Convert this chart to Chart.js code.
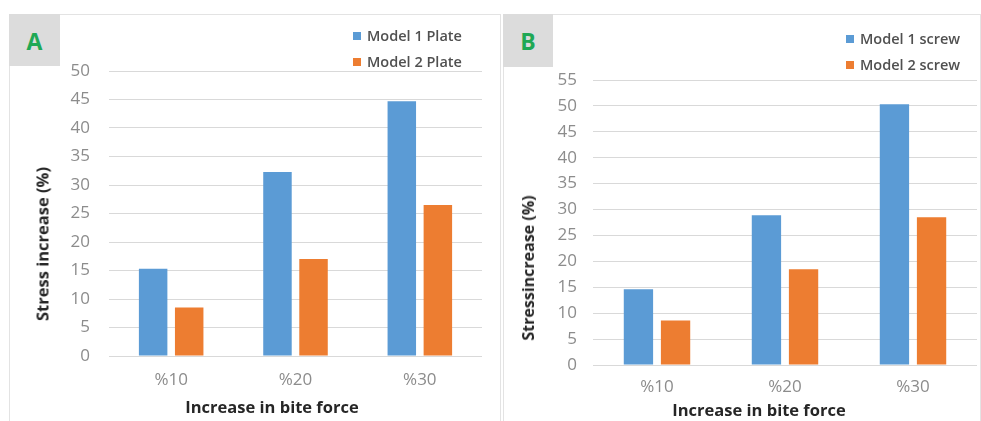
<!DOCTYPE html>
<html>
<head>
<meta charset="utf-8">
<script src="https://cdn.jsdelivr.net/npm/chart.js@4.4.1/dist/chart.umd.min.js"></script>
<style>
  body { margin: 0; background: #fff; width: 981px; height: 421px; position: relative; overflow: hidden; font-family: "Open Sans", sans-serif; }
  .panel { position: absolute; top: 14px; border: 1px solid #e3e3e3; border-bottom: none; }
  .tag { position: absolute; top: 14px; width: 51px; height: 52px; background: #dcdcdc; color: #1fa855; font: bold 23px "Open Sans", sans-serif; text-align: center; line-height: 54px; }
  .wrap { position: absolute; top: 0; height: 421px; }
  .legend { position: absolute; font: 600 14.5px "Open Sans", sans-serif; color: #505050; }
  .legend div { height: 26px; line-height: 26px; white-space: nowrap; }
  .legend span { display: inline-block; width: 8px; height: 8px; margin-right: 6px; vertical-align: 1px; }
  .ytitle { position: absolute; font: bold 16.5px "Open Sans", sans-serif; color: #262626; transform: translate(-50%, -50%) rotate(-90deg); white-space: nowrap; }
  .xtitle { position: absolute; font: bold 16.5px "Open Sans", sans-serif; color: #262626; transform: translate(-50%, -50%); white-space: nowrap; }
</style>
</head>
<body>
<div class="panel" style="left:9px;width:490px;height:407px"></div>
<div class="panel" style="left:503px;width:476px;height:407px"></div>
<div class="tag" style="left:9px">A</div>
<div class="tag" style="left:503px;height:53px;width:50px">B</div>

<div class="wrap" style="left:0;width:500px"><canvas id="chartA"></canvas></div>
<div class="wrap" style="left:495px;width:486px"><canvas id="chartB"></canvas></div>

<div class="legend" id="legendA" style="left:353px;top:23px"></div>
<div class="legend" id="legendB" style="left:846px;top:26px"></div>

<div class="ytitle" style="left:42px;top:244px">Stress increase (%)</div>
<div class="xtitle" style="left:272px;top:406px">Increase in bite force</div>
<div class="ytitle" style="left:528px;top:268px;font-size:16px">Stressincrease (%)</div>
<div class="xtitle" style="left:759px;top:409px">Increase in bite force</div>

<script>
const categories = ["%10", "%20", "%30"];

const plateLabels = ["Model 1 Plate", "Model 2 Plate"];
const plateModel1 = [15.3, 32.3, 44.7];
const plateModel2 = [8.5, 17.0, 26.5];
const plateTicks = [0, 5, 10, 15, 20, 25, 30, 35, 40, 45, 50];

const screwLabels = ["Model 1 screw", "Model 2 screw"];
const screwModel1 = [14.6, 28.9, 50.3];
const screwModel2 = [8.6, 18.5, 28.5];
const screwTicks = [0, 5, 10, 15, 20, 25, 30, 35, 40, 45, 50, 55];

const blue = "#5b9bd5";
const orange = "#ed7d31";

function makeChart(id, legendId, labels, s1, s2, ticks, box) {
  const colors = [blue, orange];
  const legend = document.getElementById(legendId);
  labels.forEach(function(l, i) {
    const d = document.createElement("div");
    d.innerHTML = '<span style="background:' + colors[i] + '"></span>' + l;
    legend.appendChild(d);
  });

  new Chart(document.getElementById(id), {
    type: 'bar',
    data: {
      labels: categories,
      datasets: [
        { label: labels[0], backgroundColor: blue, data: s1, categoryPercentage: 0.58, barPercentage: 0.79 },
        { label: labels[1], backgroundColor: orange, data: s2, categoryPercentage: 0.58, barPercentage: 0.79 }
      ]
    },
    options: {
      responsive: true,
      maintainAspectRatio: false,
      animation: false,
      layout: { padding: { left: 0, right: box.right, top: box.top, bottom: 0 } },
      plugins: { legend: { display: false }, tooltip: { enabled: false } },
      scales: {
        x: {
          grid: { display: false, drawTicks: false },
          border: { display: false },
          ticks: { color: "#8c8c8c", font: { family: "Open Sans", size: 17 }, padding: box.xpad },
          afterFit: function(s) { s.height = box.xh; }
        },
        y: {
          min: 0,
          max: ticks[ticks.length - 1],
          afterBuildTicks: function(s) { s.ticks = ticks.map(function(v) { return { value: v }; }); },
          grid: { color: "#d9d9d9", drawTicks: false },
          border: { display: false },
          ticks: { color: "#8c8c8c", font: { family: "Open Sans", size: 17 }, padding: box.ypad },
          afterFit: function(s) { s.width = box.yw; }
        }
      }
    }
  });
}

makeChart("chartA", "legendA", plateLabels, plateModel1, plateModel2, plateTicks,
  { right: 18, top: 71, xh: 65, yw: 109, xpad: 14, ypad: 19 });
makeChart("chartB", "legendB", screwLabels, screwModel1, screwModel2, screwTicks,
  { right: 4, top: 80, xh: 56, yw: 98, xpad: 12, ypad: 16 });
</script>
</body>
</html>
